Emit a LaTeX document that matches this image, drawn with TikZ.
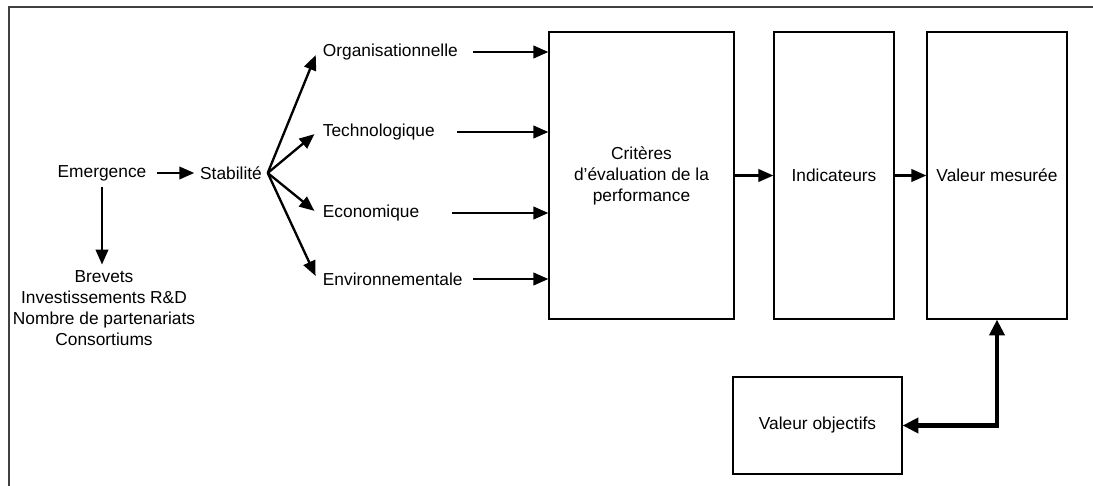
\documentclass[tikz,border=0pt]{standalone}
\usepackage{fontspec}
\setmainfont{Liberation Sans}
\usetikzlibrary{arrows.meta}

\begin{document}
\begin{tikzpicture}[>={Triangle[length=9pt,width=7.5pt]}, x=0.6pt, y=-0.6pt,
    font=\fontsize{10.4}{12.6}\selectfont,
    boite/.style={draw, line width=0.75pt, inner sep=0pt, align=center},
    fleche/.style={->, line width=1.4pt},
    grosse/.style={{Triangle[length=9.5pt,width=9pt]}-{Triangle[length=9.5pt,width=9pt]}, line width=2.6pt}]
    % 1. Cadre
    \useasboundingbox (0,0) rectangle (1093,486);
    \draw[line width=0.9pt, black!75] (1093,7) -- (9,7) -- (9,486);

    % 2. Emergence et stabilité
    \node (emerg) at (102,173) {Emergence};
    \node (stab) at (231,173) {Stabilité};
    \node[align=center] (liste) at (104,308)
        {Brevets\\Investissements R\&D\\Nombre de partenariats\\Consortiums};
    \draw[fleche, shorten <=3pt] (emerg.east) -- (stab.west);
    \draw[fleche] (emerg.south) -- (emerg.south |- liste.north);

    % 3. Dimensions de la stabilité
    \node[anchor=west] (org) at (317,52) {Organisationnelle};
    \node[anchor=west] (tech) at (317,132) {Technologique};
    \node[anchor=west] (econ) at (317,213) {Economique};
    \node[anchor=west] (env) at (317,279) {Environnementale};
    \foreach \n in {org,tech,econ,env}
        \draw[fleche, shorten >=2pt] (stab.east) -- (\n.west);

    % 4. Chaîne d'évaluation
    \node[boite, minimum width=111pt, minimum height=172.2pt] (crit) at (641.5,175.5)
        {Critères\\d’évaluation de la\\performance};
    \node[boite, minimum width=72pt, minimum height=172.2pt] (ind) at (834,175.5) {Indicateurs};
    \node[boite, minimum width=84pt, minimum height=172.2pt] (mes) at (997,175.5) {Valeur mesurée};
    \node[boite, minimum width=101.4pt, minimum height=58.2pt] (obj) at (817.5,425.5) {Valeur objectifs};

    \foreach \n/\d in {org/5.4pt, tech/10pt, econ/16pt, env/3pt}
        \draw[fleche, shorten <=\d] (\n.east) -- (\n.east -| crit.west);
    \draw[fleche] (crit) -- (ind);
    \draw[fleche] (ind) -- (mes);
    \draw[grosse] (mes.south) |- (obj.east);
\end{tikzpicture}
\end{document}
